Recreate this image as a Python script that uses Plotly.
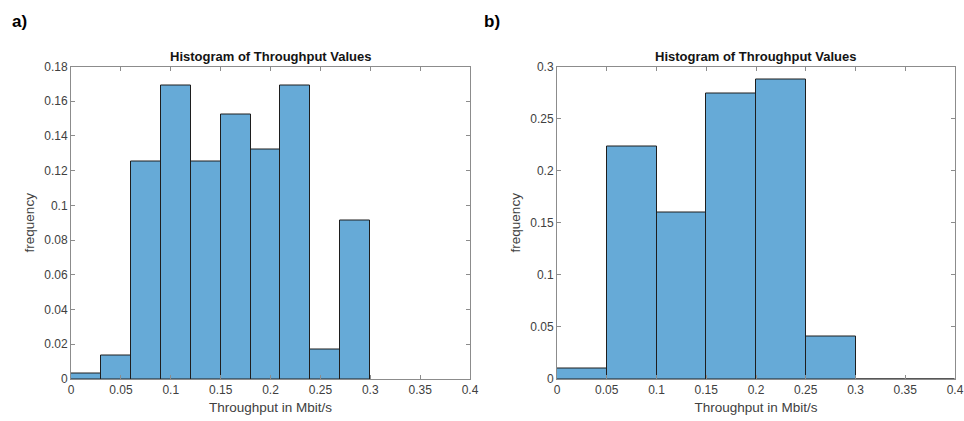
import plotly.graph_objects as go

# Panel a data
edges_a = [0.0, 0.03, 0.06, 0.09, 0.12, 0.15, 0.18, 0.21, 0.24, 0.27, 0.30]
freq_a = [0.0034, 0.0137, 0.1253, 0.1691, 0.1253, 0.1524, 0.1322, 0.1691, 0.017, 0.0912]

# Panel b data
edges_b = [0.0, 0.05, 0.10, 0.15, 0.20, 0.25, 0.30, 0.35, 0.40]
freq_b = [0.0099, 0.2234, 0.1596, 0.274, 0.2875, 0.0404, 0.0, 0.0]

xtick_vals = [0, 0.05, 0.1, 0.15, 0.2, 0.25, 0.3, 0.35, 0.4]
xtick_text = ["0", "0.05", "0.1", "0.15", "0.2", "0.25", "0.3", "0.35", "0.4"]
ytick_vals_a = [0, 0.02, 0.04, 0.06, 0.08, 0.1, 0.12, 0.14, 0.16, 0.18]
ytick_text_a = ["0", "0.02", "0.04", "0.06", "0.08", "0.1", "0.12", "0.14", "0.16", "0.18"]
ytick_vals_b = [0, 0.05, 0.1, 0.15, 0.2, 0.25, 0.3]
ytick_text_b = ["0", "0.05", "0.1", "0.15", "0.2", "0.25", "0.3"]

title_text = "Histogram of Throughput Values"
xlabel = "Throughput in Mbit/s"
ylabel = "frequency"

FILL = "rgb(102,170,215)"
EDGE = "rgb(30,30,30)"
AXC = "rgb(140,140,140)"
TXT = "rgb(64,64,64)"
FONT = "Liberation Sans, Arial, sans-serif"


def bars(edges, vals, xa, ya):
    centers = [(edges[i] + edges[i + 1]) / 2 for i in range(len(vals))]
    widths = [edges[i + 1] - edges[i] for i in range(len(vals))]
    return go.Bar(x=centers, y=vals, width=widths, xaxis=xa, yaxis=ya,
                  marker=dict(color=FILL, line=dict(color=EDGE, width=1)),
                  showlegend=False, hoverinfo="x+y")


fig = go.Figure()
fig.add_trace(bars(edges_a, freq_a, "x", "y"))
fig.add_trace(bars(edges_b, freq_b, "x2", "y2"))

ax_common = dict(showline=True, linecolor=AXC, linewidth=1, mirror="ticks",
                 ticks="inside", ticklen=4, tickcolor=AXC, showgrid=False,
                 zeroline=False, automargin=False,
                 tickfont=dict(family=FONT, size=12, color=TXT))

dom_a = [71 / 964, 470 / 964]
dom_b = [557 / 964, 955 / 964]
dom_y = [1 - 379 / 421, 1 - 66.5 / 421]
tfont = dict(family=FONT, size=13.5, color=TXT)

fig.update_layout(
    width=964, height=421,
    margin=dict(l=0, r=0, t=0, b=0, autoexpand=False),
    paper_bgcolor="white", plot_bgcolor="white",
    bargap=0,
    xaxis=dict(domain=dom_a, range=[0, 0.4], tickvals=xtick_vals, ticktext=xtick_text,
               anchor="y", title=dict(text=xlabel, font=tfont, standoff=6), **ax_common),
    yaxis=dict(domain=dom_y, range=[0, 0.18], tickvals=ytick_vals_a, ticktext=ytick_text_a,
               anchor="x", title=dict(text=ylabel, font=tfont, standoff=6), **ax_common),
    xaxis2=dict(domain=dom_b, range=[0, 0.4], tickvals=xtick_vals, ticktext=xtick_text,
                anchor="y2", title=dict(text=xlabel, font=tfont, standoff=6), **ax_common),
    yaxis2=dict(domain=dom_y, range=[0, 0.3], tickvals=ytick_vals_b, ticktext=ytick_text_b,
                anchor="x2", title=dict(text=ylabel, font=tfont, standoff=6), **ax_common),
    annotations=[
        dict(text="<b>a)</b>", x=10 / 964, y=1 - 22 / 421, xref="paper", yref="paper",
             xanchor="left", yanchor="middle", showarrow=False,
             font=dict(family=FONT, size=17, color="black")),
        dict(text="<b>b)</b>", x=482 / 964, y=1 - 22 / 421, xref="paper", yref="paper",
             xanchor="left", yanchor="middle", showarrow=False,
             font=dict(family=FONT, size=17, color="black")),
        dict(text="<b>" + title_text + "</b>", x=sum(dom_a) / 2, y=1 - 56 / 421,
             xref="paper", yref="paper", xanchor="center", yanchor="middle", showarrow=False,
             font=dict(family=FONT, size=13, color="rgb(20,20,20)")),
        dict(text="<b>" + title_text + "</b>", x=sum(dom_b) / 2, y=1 - 56 / 421,
             xref="paper", yref="paper", xanchor="center", yanchor="middle", showarrow=False,
             font=dict(family=FONT, size=13, color="rgb(20,20,20)")),
    ],
)

fig.write_html("out.html", config={"displayModeBar": False},
               post_script="document.body.style.margin='0';document.body.style.overflow='hidden';")
